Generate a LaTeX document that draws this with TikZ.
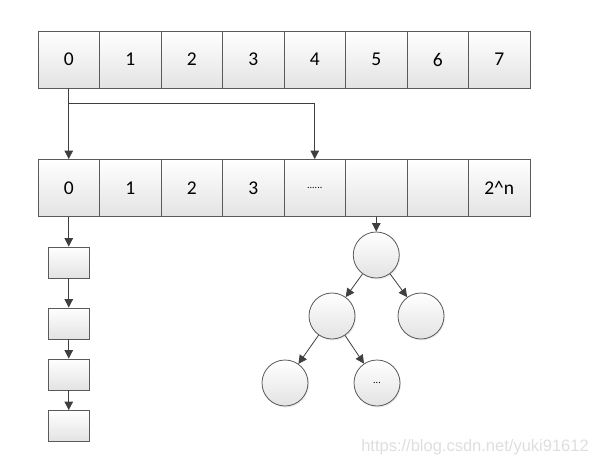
\documentclass[tikz,border=0pt]{standalone}
\usepackage{fontspec}
\setmainfont{Carlito}
\newfontfamily\markfont{Liberation Sans}
\usetikzlibrary{arrows.meta,shadows}
\definecolor{edge}{RGB}{90,90,90}
\newcommand{\dotsfont}{\fontsize{10}{12}\selectfont}
\newcommand{\more}{{\dotsfont .\kern0pt.\kern0pt.\kern0pt.\kern0pt.\kern0pt.}}
\tikzset{
	cell/.style={draw=edge, line width=0.8pt, top color=white, bottom color=black!11, minimum width=61.5pt, minimum height=57pt, inner sep=0pt, font=\fontsize{19.5}{22}\selectfont},
	item/.style={cell, minimum width=41pt, minimum height=31pt},
	leaf/.style={circle, draw=edge, line width=0.8pt, top color=white, bottom color=black!11, minimum size=46pt, inner sep=0pt, drop shadow={opacity=0.15, shadow xshift=1pt, shadow yshift=-1.5pt}},
	link/.style={draw=edge!70!black, line width=0.8pt, -{Triangle[length=8.5pt,width=8.5pt]}}
}
\begin{document}
\begin{tikzpicture}[x=1pt, y=-1pt]
		\useasboundingbox (0,0) rectangle (595,466);
		\foreach \lbl [count=\i from 0] in {0,1,2,3,4,5,6,7}{
			\node[cell] (a\i) at (68.75 + 61.5*\i, 59.5) {\lbl};
		}
		\foreach \lbl [count=\i from 0] in {0,1,2,3,\more,{},{},2\textasciicircum n}{
			\node[cell] (b\i) at (68.75 + 61.5*\i, 188) {\lbl};
		}
		\foreach \y [count=\i] in {262.5, 323.5, 374.5, 426}{
			\node[item] (c\i) at (68.75, \y) {};
		}
		\node[leaf] (t) at (376.25, 255) {};
		\node[leaf] (tl) at (332, 316) {};
		\node[leaf] (tr) at (421, 316) {};
		\node[leaf] (tll) at (285, 383) {};
		\node[leaf] (tlr) at (377, 383) {\dotsfont ...};
		\coordinate (fork) at (68.75, 103);
		\draw[link] (a0.south) -- (b0.north);
		\draw[link] (fork) -| (b4.north);
		\draw[link] (b0) -- (c1);
		\foreach \i/\j in {1/2, 2/3, 3/4}{
			\draw[link] (c\i) -- (c\j);
		}
		\draw[link] (b5) -- (t);
		\draw[link] (t) -- (tl);
		\draw[link] (t) -- (tr);
		\draw[link] (tl) -- (tll);
		\draw[link] (tl) -- (tlr);
		\node[text=black!13, font=\markfont\fontsize{16.5}{18}\selectfont] (mark) at (475, 447) {https://blog.csdn.net/yuki91612};
	\end{tikzpicture}
\end{document}
